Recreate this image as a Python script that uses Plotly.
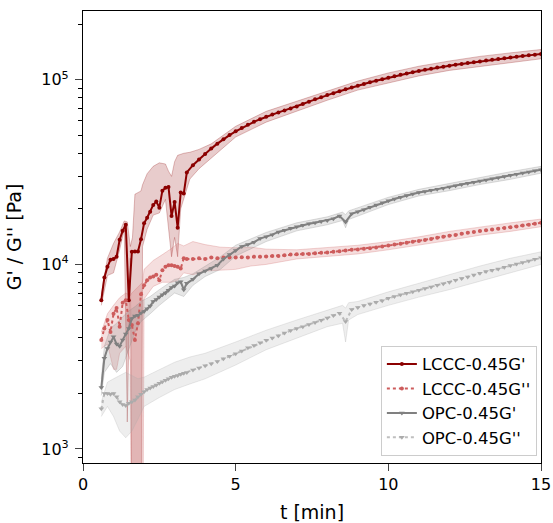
import plotly.graph_objects as go

# ---------------- data ----------------
T = [0.6, 0.7, 0.8, 0.9, 1.0, 1.1, 1.2, 1.3, 1.4, 1.5, 1.6, 1.7, 1.8, 1.9, 2.0,
     2.1, 2.2, 2.3, 2.4, 2.5, 2.6, 2.7, 2.8, 2.9, 3.0, 3.1, 3.2, 3.3, 3.4,
     3.6, 3.8, 4.0, 4.2, 4.4, 4.6, 4.8, 5.0, 5.2, 5.4, 5.6, 5.8, 6.0, 6.2, 6.4,
     6.6, 6.8, 7.0, 7.2, 7.4, 7.6, 7.8, 8.0, 8.2, 8.4, 8.6, 8.8, 9.0, 9.2, 9.4,
     9.6, 9.8, 10.0, 10.2, 10.4, 10.6, 10.8, 11.0, 11.2, 11.4, 11.6, 11.8, 12.0,
     12.2, 12.4, 12.6, 12.8, 13.0, 13.2, 13.4, 13.6, 13.8, 14.0, 14.2, 14.4,
     14.6, 14.8, 15.0]

lccc_gp = [6400, 8500, 9700, 10600, 10700, 11000, 13600, 15200, 16400, 6400,
           11700, 11750, 11750, 13700, 16700, 17900, 19300, 21000, 21900, 20300,
           25100, 26000, 26300, 18300, 21800, 15800, 24500, 24200, 31500,
           34500, 37000, 39700, 42400, 45100, 47700, 50200, 52600, 54900, 57100,
           59200, 61200, 63100, 64900, 66600, 68300, 70000, 71800, 74000, 76200,
           78400, 80600, 82700, 84700, 86800, 88900, 91000, 93000, 95000, 97000,
           98900, 100800, 102700, 104600, 106500, 108200, 109900, 111600, 113300,
           115000, 116500, 117900, 119300, 120600, 121900, 123200, 124500, 125800,
           127100, 128400, 129700, 130900, 132100, 133300, 134500, 135700, 136900,
           138000]

lccc_gpp = [3900, 4500, 5000, 4300, 5400, 5800, 4600, 6200, 6400, 5000,
            4700, 3900, 4800, 6900, 7700, 8200, 8500, 8600, 8800, 8200,
            9300, 9700, 9900, 9900, 9800, 9700, 9500, 10800, 10700,
            10700, 10800, 10700, 10900, 10800, 10900, 10900, 10900, 10950, 10900,
            11000, 11000, 11050, 11100, 11100, 11200, 11300, 11350, 11400, 11400,
            11500, 11550, 11600, 11700, 11800, 11900, 12000, 12050, 12150, 12250,
            12350, 12500, 12650, 12800, 12950, 13100, 13250, 13400, 13550, 13750,
            13950, 14100, 14300, 14450, 14650, 14850, 15000, 15150, 15300, 15450,
            15600, 15750, 15900, 16050, 16250, 16400, 16600, 16800]

opc_gp = [2150, 3100, 3500, 3800, 4050, 3700, 3600, 3900, 4200, 4500,
          5100, 5250, 5300, 5450, 5550, 5750, 5950, 6300, 6450, 6650,
          6850, 7000, 7250, 7500, 7650, 7950, 8050, 7300, 7900,
          8300, 8900, 9200, 9500, 9900, 10700, 11300, 11900, 12500, 12800,
          13200, 13800, 14100, 14500, 15000, 15300, 15700, 16000, 16300, 16600,
          16800, 17100, 17300, 17700, 18300, 17000, 18800, 19300, 19800, 20400,
          21000, 21600, 22100, 22600, 23100, 23600, 24100, 24500, 24800, 25200,
          25500, 25900, 26300, 26700, 27100, 27500, 27900, 28300, 28700, 29100,
          29500, 29900, 30400, 30800, 31300, 31700, 32200, 32600]

opc_gpp = [1650, 2000, 2000, 1980, 2000, 1920, 1800, 1740, 1720, 1770,
           1800, 1840, 1920, 1980, 2040, 2100, 2140, 2180, 2220, 2270,
           2310, 2360, 2400, 2450, 2480, 2500, 2540, 2570, 2600,
           2680, 2750, 2820, 2900, 2980, 3080, 3180, 3280, 3400, 3530,
           3640, 3760, 3880, 3990, 4110, 4250, 4380, 4500, 4600, 4720,
           4850, 4980, 5120, 5280, 5430, 4900, 5700, 5850, 5980, 6100,
           6230, 6350, 6550, 6700, 6850, 6970, 7100, 7250, 7400, 7550,
           7700, 7850, 8000, 8200, 8400, 8550, 8750, 8950, 9150, 9300,
           9450, 9650, 9850, 10050, 10250, 10450, 10650, 10850]

# shaded bands (own time stamps)
band1_t = [0.6, 0.8, 1.0, 1.2, 1.35, 1.45, 1.55, 1.62, 1.7, 1.9, 1.95, 2.1, 2.3,
           2.5, 2.7, 2.8, 2.9, 3.0, 3.1, 3.2, 3.3, 3.5, 3.8, 4.2, 5, 6, 7, 8, 9,
           10, 11, 12, 13, 14, 15]
band1_hi = [6900, 10800, 13000, 15000, 17200, 17000, 12500, 14000, 24000, 25000,
            27000, 31000, 34000, 35500, 35000, 32000, 30000, 36000, 39000, 39500,
            40000, 40500, 42000, 45000, 56000, 67500, 76500, 87500, 98500, 109000,
            118500, 126500, 134000, 140000, 146000]
band1_lo = [6000, 8700, 9000, 12000, 15500, 1400, 10800, 100, 100, 100,
            12500, 15500, 18500, 19000, 22500, 16000, 11000, 14000, 11000, 20000,
            22500, 29000, 33000, 37500, 49000, 59000, 67500, 77500, 88000, 96500,
            105000, 112500, 118000, 124000, 130000]

band2_t = [0.6, 0.8, 1.0, 1.1, 1.2, 1.4, 1.55, 1.6, 1.95, 2.0, 2.3, 2.6, 2.9,
           3.1, 3.3, 3.6, 4.0, 4.5, 5, 5.5, 6, 7, 8, 9, 10, 11, 12, 13, 14, 15]
band2_hi = [4300, 5400, 6000, 6300, 6600, 7000, 6800, 7000, 8000, 9400, 10500,
            11300, 12200, 13000, 12600, 13300, 12800, 12400, 12300, 12400, 12100,
            12000, 12300, 12700, 13300, 14100, 15100, 16000, 16800, 17600]
band2_lo = [3500, 3700, 2700, 2700, 3300, 3600, 3000, 100, 100, 6500, 7600,
            8000, 8000, 8200, 9000, 8800, 9200, 9300, 9400, 9800, 10000, 10700,
            11000, 11400, 12000, 12700, 13500, 14400, 15100, 16000]

band3_t = [0.6, 0.7, 0.9, 1.1, 1.3, 1.5, 1.7, 1.9, 2.2, 2.5, 3.0, 3.3, 3.6, 4.0,
           4.5, 5, 6, 7, 8, 8.5, 8.6, 8.7, 9, 10, 11, 12, 13, 14, 15]
band3_hi = [2400, 3600, 4500, 4800, 5200, 5600, 5900, 6300, 6700, 7300, 8300,
            8500, 8900, 9800, 11000, 12700, 14900, 16800, 18100, 19200, 18600,
            19500, 20300, 23100, 25500, 27500, 29600, 31800, 34000]
band3_lo = [1950, 2600, 2900, 2600, 2800, 3500, 4300, 4900, 5400, 6000, 7000,
            6700, 7700, 8600, 9400, 11100, 13300, 15200, 16400, 17300, 15800,
            17500, 18300, 21100, 23500, 25100, 27100, 28900, 31200]

band4_t = [0.6, 0.8, 1.0, 1.2, 1.4, 1.6, 1.8, 2.0, 2.5, 3.0, 3.5, 4, 5, 6, 7, 8,
           8.5, 8.6, 8.7, 9, 10, 11, 12, 13, 14, 15]
band4_hi = [1800, 2300, 2400, 2500, 2600, 2500, 2400, 2450, 2700, 2950, 3150,
            3300, 3800, 4400, 5000, 5650, 6000, 5800, 6200, 6300, 7100, 7900,
            8800, 9800, 10800, 11700]
band4_lo = [1500, 1700, 1500, 1250, 1150, 1250, 1450, 1700, 1900, 2100, 2250,
            2400, 2850, 3450, 4000, 4600, 4800, 3800, 5000, 5350, 6000, 6650,
            7300, 8150, 9000, 10000]

x_ticks = [0, 5, 10, 15]
y_major = [1e3, 1e4, 1e5]
y_major_text = ["10<sup>3</sup>", "10<sup>4</sup>", "10<sup>5</sup>"]
y_minor = [m * d for d in (100, 1000, 10000, 100000) for m in range(2, 10)]

FONT = "DejaVu Sans"

# ---------------- figure ----------------
fig = go.Figure()

bands = [
    (band1_t, band1_lo, band1_hi, "139,0,0"),
    (band2_t, band2_lo, band2_hi, "205,92,92"),
    (band3_t, band3_lo, band3_hi, "128,128,128"),
    (band4_t, band4_lo, band4_hi, "169,169,169"),
]
for bt, lo, hi, rgb in bands:
    fig.add_trace(go.Scatter(
        x=list(bt) + list(bt)[::-1], y=list(hi) + list(lo)[::-1],
        fill="toself", fillcolor=f"rgba({rgb},0.2)",
        line=dict(color=f"rgba({rgb},0.25)", width=1),
        mode="lines", hoverinfo="skip", showlegend=False))

series = [
    ("LCCC-0.45G'", lccc_gp, "#8B0000", "#8B0000", "solid", "circle", 4, 2),
    ("LCCC-0.45G''", lccc_gpp, "#CD5C5C", "#CD5C5C", "dot", "circle", 4, 2),
    ("OPC-0.45G'", opc_gp, "#808080", "#808080", "solid", "triangle-down", 5, 2),
    ("OPC-0.45G''", opc_gpp, "rgba(169,169,169,0.75)", "#ABABAB", "dot",
     "triangle-down", 5, 2),
]
for i, (name, ys, lc, mc, dash, sym, ms, lw) in enumerate(series):
    fig.add_trace(go.Scatter(
        x=T, y=ys, name=name, mode="lines+markers",
        line=dict(color=lc, width=lw, dash=dash),
        marker=dict(color=mc, symbol=sym, size=ms, line=dict(width=0))))

fig.update_layout(
    width=553, height=523,
    margin=dict(l=83, r=12, t=11, b=60, autoexpand=False),
    plot_bgcolor="white", paper_bgcolor="white",
    font=dict(family=FONT, size=16, color="black"),
    legend=dict(x=0.991, y=0.016, xanchor="right", yanchor="bottom",
                bgcolor="rgba(255,255,255,0.8)", bordercolor="#cccccc",
                borderwidth=1, font=dict(size=16.5)),
)
fig.update_xaxes(
    range=[0, 15], tickvals=x_ticks, ticks="outside", ticklen=7, tickwidth=1.2,
    showline=True, linecolor="black", linewidth=1.2, mirror=True,
    showgrid=False, zeroline=False, automargin=False,
    title=dict(text="t [min]", standoff=14))
fig.update_yaxes(
    type="log", range=[2.924, 5.373], tickvals=y_major, ticktext=y_major_text,
    ticks="outside", ticklen=7, tickwidth=1.2, ticklabelstandoff=3,
    minor=dict(tickvals=y_minor, ticks="outside", ticklen=4, tickwidth=1,
               tickcolor="black", showgrid=False),
    showline=True, linecolor="black", linewidth=1.2, mirror=True,
    showgrid=False, zeroline=False, automargin=False,
    title=dict(text="G' / G'' [Pa]", standoff=14))

fig.write_html("out.html")
